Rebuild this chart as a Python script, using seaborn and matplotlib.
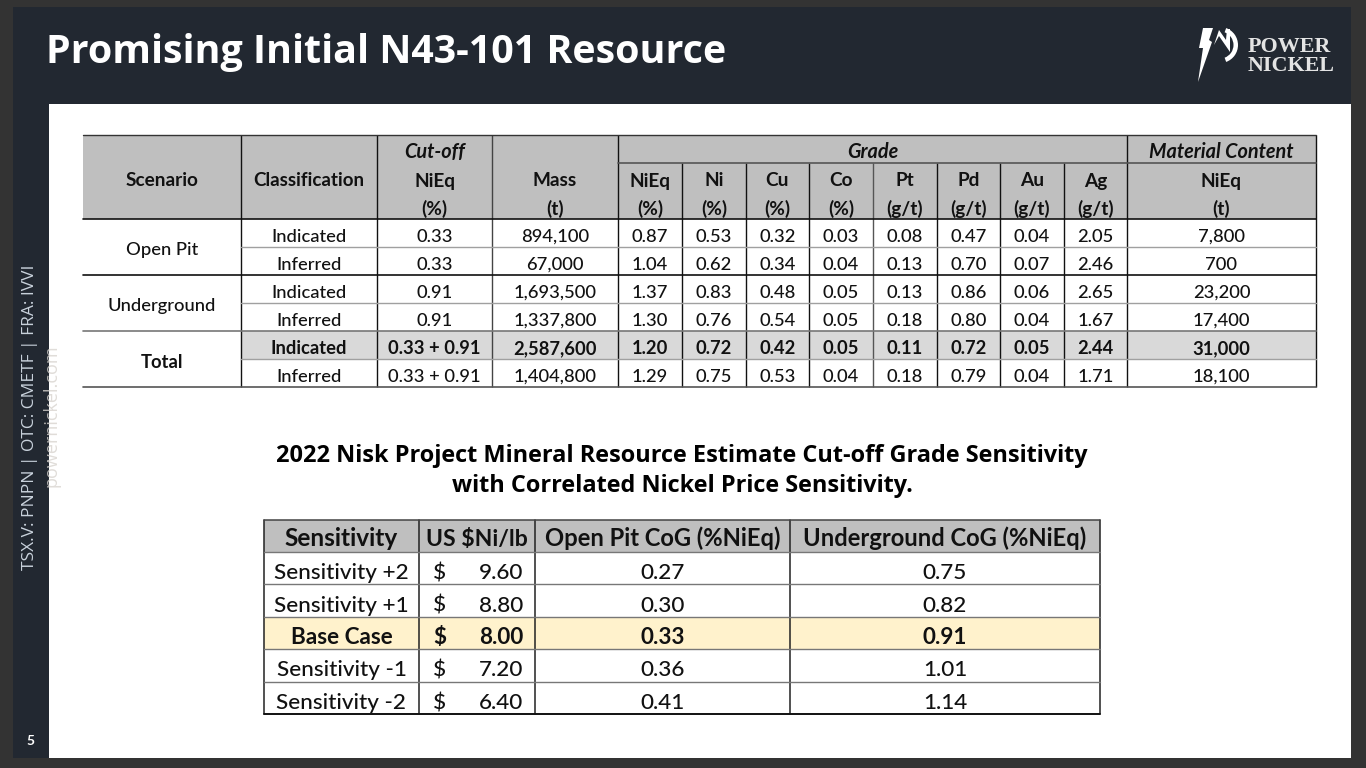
import numpy as np
import matplotlib
matplotlib.use("Agg")
import matplotlib.pyplot as plt
from matplotlib.colors import ListedColormap
from matplotlib.patches import Rectangle, Polygon, Wedge
from matplotlib.transforms import Affine2D
import seaborn as sns

# table 1 values
scenarios = ["Open Pit", "Underground", "Total"]
classes = ["Indicated", "Inferred", "Indicated", "Inferred", "Indicated", "Inferred"]
cutoff = ["0.33", "0.33", "0.91", "0.91", "0.33 + 0.91", "0.33 + 0.91"]
mass = ["894,100", "67,000", "1,693,500", "1,337,800", "2,587,600", "1,404,800"]
nieq = ["0.87", "1.04", "1.37", "1.30", "1.20", "1.29"]
ni = ["0.53", "0.62", "0.83", "0.76", "0.72", "0.75"]
cu = ["0.32", "0.34", "0.48", "0.54", "0.42", "0.53"]
co = ["0.03", "0.04", "0.05", "0.05", "0.05", "0.04"]
pt = ["0.08", "0.13", "0.13", "0.18", "0.11", "0.18"]
pd_ = ["0.47", "0.70", "0.86", "0.80", "0.72", "0.79"]
au = ["0.04", "0.07", "0.06", "0.04", "0.05", "0.04"]
ag = ["2.05", "2.46", "2.65", "1.67", "2.44", "1.71"]
content = ["7,800", "700", "23,200", "17,400", "31,000", "18,100"]
grade_heads = [("NiEq", "(%)"), ("Ni", "(%)"), ("Cu", "(%)"), ("Co", "(%)"),
               ("Pt", "(g/t)"), ("Pd", "(g/t)"), ("Au", "(g/t)"), ("Ag", "(g/t)")]

# table 2 values
sens_heads = ["Sensitivity", "US \\$Ni/lb", "Open Pit CoG (%NiEq)", "Underground CoG (%NiEq)"]
sens_names = ["Sensitivity +2", "Sensitivity +1", "Base Case", "Sensitivity -1", "Sensitivity -2"]
sens_price = ["9.60", "8.80", "8.00", "7.20", "6.40"]
sens_pit = ["0.27", "0.30", "0.33", "0.36", "0.41"]
sens_ug = ["0.75", "0.82", "0.91", "1.01", "1.14"]

W, H = 1366, 768
FONT = "Lato"
DARK = "#222831"

sns.set_theme(style="white")
plt.rcParams["font.family"] = [FONT, "DejaVu Sans"]
fig = plt.figure(figsize=(W / 100, H / 100), dpi=100, facecolor="#333333")


def px_axes(x0, y0, x1, y1, z=1):
    a = fig.add_axes([x0 / W, 1 - y1 / H, (x1 - x0) / W, (y1 - y0) / H], zorder=z)
    a.set_axis_off()
    return a


# slide background
bg = px_axes(0, 0, W, H)
bg.set_xlim(0, W)
bg.set_ylim(H, 0)
bg.add_patch(Rectangle((13, 7), 1338, 751, fc=DARK, ec="none"))
bg.add_patch(Rectangle((49, 104), 1302, 654, fc="white", ec="none"))
bg.text(46, 62.5, "Promising Initial N43-101 Resource", color="white", fontsize=28.4,
        fontweight="bold", family="Open Sans", va="baseline", ha="left")
bg.text(30, 417, "TSX.V: PNPN | OTC: CMETF | FRA: IVVI", color="#c9d2dc", fontsize=12.5,
        rotation=90, va="center", ha="center", family="Open Sans")
bg.text(51, 416, "powernickel.com", color="#d8d4cf", fontsize=13, rotation=90,
        va="center", ha="center", alpha=0.8, family="Open Sans")
bg.text(30, 741, "5", color="white", fontsize=10, fontweight="bold", va="center", ha="center")
# logo
bg.add_patch(Polygon([(1203, 28), (1213, 28), (1209, 40), (1212, 42), (1198, 82),
                      (1203, 48), (1199, 48)], fc="white", ec="none"))
bg.add_patch(Polygon([(1214, 45), (1219, 30), (1226, 40), (1227, 29), (1230, 29), (1230, 52),
                      (1219, 36)], fc="white", ec="none"))
bg.add_patch(Wedge((1220, 45), 18, -70, 70, width=4.5, fc="white", ec="none"))
bg.text(1248, 52, "POWER", color="#e4e4e4", fontsize=15.8, fontweight="bold",
        family="Liberation Serif", va="baseline", ha="left")
bg.text(1248, 71, "NICKEL", color="#e4e4e4", fontsize=15.8, fontweight="bold",
        family="Liberation Serif", va="baseline", ha="left")
bg.text(682, 461.5, "2022 Nisk Project Mineral Resource Estimate Cut-off Grade Sensitivity",
        fontsize=16.9, fontweight="bold", color="black", va="baseline", ha="center",
        family="Open Sans")
bg.text(682, 491.5, "with Correlated Nickel Price Sensitivity.", fontsize=16.9, fontweight="bold",
        color="black", va="baseline", ha="center", family="Open Sans")


def shade_table(x_edges, y_edges, shade, colors, bounds):
    # one pixel per heatmap cell so that uneven columns keep their widths
    grid = np.repeat(np.repeat(shade, np.diff(y_edges), axis=0), np.diff(x_edges), axis=1)
    a = px_axes(*bounds, z=2)
    sns.heatmap(grid, ax=a, cmap=ListedColormap(colors), vmin=0, vmax=len(colors) - 1,
                cbar=False, xticklabels=False, yticklabels=False)
    a.set_xlim(bounds[0], bounds[2])
    a.set_ylim(bounds[3], bounds[1])
    a.collections[0].set_transform(Affine2D().translate(bounds[0], bounds[1]) + a.transData)
    a.set_axis_off()
    return a


# table 1
xs1 = [83, 241, 377, 492, 618, 682, 746, 809, 873, 937, 1000, 1064, 1127, 1316]
ys1 = [135, 163, 219, 247, 275, 303, 331, 359, 387]
shade1 = np.zeros((8, 13), dtype=int)
shade1[:2, :] = 2
shade1[6, 1:] = 1
t1 = shade_table(xs1, ys1, shade1, ["white", "#D9D9D9", "#BFBFBF"], (83, 135, 1316, 387))
FS1 = 13.2
HEAD = 13.7
ITAL = 14.3


def put(a, x, y, s, dy=7.5, **kw):
    kw.setdefault("fontsize", FS1)
    a.text(x, y + dy, s, ha=kw.pop("ha", "center"), va="baseline", color="#111111", **kw)


def mid(edges, i):
    return (edges[i] + edges[i + 1]) / 2


put(t1, mid(xs1, 0), 179, "Scenario", fontweight="bold", fontsize=HEAD)
put(t1, mid(xs1, 1), 179, "Classification", fontweight="bold", fontsize=13.5)
put(t1, mid(xs1, 2), 151, "Cut-off", fontweight="bold", style="italic", fontsize=ITAL)
put(t1, mid(xs1, 2), 179, "NiEq", fontweight="bold", fontsize=HEAD)
put(t1, mid(xs1, 2), 207, "(%)", fontweight="bold", fontsize=HEAD)
put(t1, mid(xs1, 3), 179, "Mass", fontweight="bold", fontsize=HEAD)
put(t1, mid(xs1, 3), 207, "(t)", fontweight="bold", fontsize=HEAD)
put(t1, (xs1[4] + xs1[12]) / 2, 151, "Grade", fontweight="bold", style="italic", fontsize=ITAL)
put(t1, mid(xs1, 12), 151, "Material Content", fontweight="bold", style="italic", fontsize=ITAL)
put(t1, mid(xs1, 12), 179, "NiEq", fontweight="bold", fontsize=HEAD)
put(t1, mid(xs1, 12), 207, "(t)", fontweight="bold", fontsize=HEAD)
for i, (top, unit) in enumerate(grade_heads):
    put(t1, mid(xs1, 4 + i), 179, top, fontweight="bold", fontsize=HEAD)
    put(t1, mid(xs1, 4 + i), 207, unit, fontweight="bold", fontsize=HEAD)

for k, name in enumerate(scenarios):
    put(t1, mid(xs1, 0), ys1[3 + 2 * k], name, dy=8.5, fontweight="bold" if k == 2 else "medium")

columns = [classes, cutoff, mass, nieq, ni, cu, co, pt, pd_, au, ag, content]
for c, col in enumerate(columns):
    for r, val in enumerate(col):
        put(t1, mid(xs1, c + 1), mid(ys1, r + 2), val, dy=9,
            fontweight="bold" if r == 4 else "medium")

for x in [241, 377, 492, 618, 1127, 1316]:
    t1.plot([x, x], [135, 387], color="#111111" if x != 492 else "#444444", lw=1.0,
            solid_capstyle="butt", clip_on=False)
for x in xs1[5:12]:
    t1.plot([x, x], [163, 387], color="#111111" if x != 873 else "#555555", lw=1.0,
            solid_capstyle="butt", clip_on=False)
t1.plot([618, 1316], [163, 163], color="#555555", lw=1.2, clip_on=False)
for y in [247, 303, 359]:
    t1.plot([241, 1316], [y, y], color="#a0a0a0", lw=1.0, clip_on=False)
t1.plot([83, 1316], [135, 135], color="#333333", lw=1.0, clip_on=False)
t1.plot([83, 1316], [219, 219], color="#111111", lw=1.2, clip_on=False)
t1.plot([83, 1316], [275, 275], color="#111111", lw=1.2, clip_on=False)
t1.plot([83, 1316], [331, 331], color="#777777", lw=1.2, clip_on=False)
t1.plot([83, 1316], [387, 387], color="#555555", lw=1.2, clip_on=False)

# table 2
xs2 = [264, 419, 535, 790, 1100]
ys2 = [520, 552, 584, 617, 649, 682, 714]
shade2 = np.zeros((6, 4), dtype=int)
shade2[0, :] = 2
shade2[3, :] = 1
t2 = shade_table(xs2, ys2, shade2, ["white", "#FFF2CC", "#BFBFBF"], (264, 520, 1100, 714))
FS2 = 16.2
head_sizes = [17.6, 16.6, 17.1, 17.1]
for i, head in enumerate(sens_heads):
    put(t2, mid(xs2, i), 538, head, dy=8, fontsize=head_sizes[i], fontweight="bold")
for r in range(5):
    y = mid(ys2, r + 1) + 1
    bold = "bold" if r == 2 else "medium"
    put(t2, mid(xs2, 0), y, sens_names[r], dy=10, fontsize=FS2, fontweight=bold)
    put(t2, 440, y, "\\$", dy=10, fontsize=FS2, fontweight=bold)
    put(t2, 523, y, sens_price[r], dy=10, fontsize=FS2, fontweight=bold, ha="right")
    put(t2, mid(xs2, 2), y, sens_pit[r], dy=10, fontsize=FS2, fontweight=bold)
    put(t2, mid(xs2, 3), y, sens_ug[r], dy=10, fontsize=FS2, fontweight=bold)
for x in xs2:
    t2.plot([x, x], [520, 714], color="#222222", lw=1.1, clip_on=False)
for y in ys2[1:-1]:
    t2.plot([264, 1100], [y, y], color="#777777", lw=1.0, clip_on=False)
t2.plot([264, 1100], [520, 520], color="#444444", lw=1.1, clip_on=False)
t2.plot([264, 1100], [714, 714], color="#111111", lw=1.4, clip_on=False)

fig.savefig("out.png", dpi=100, facecolor=fig.get_facecolor())
